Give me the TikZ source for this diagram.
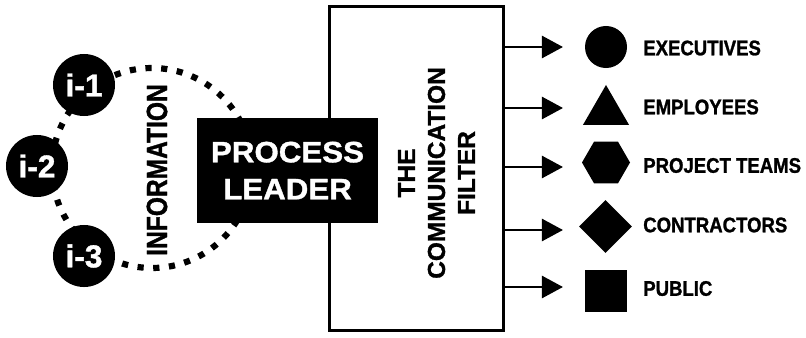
\documentclass[tikz,border=0pt]{standalone}
\usepackage{fontspec}
\setmainfont{Liberation Sans}[BoldFeatures={FakeBold=1.2}]
\newfontfamily\leadfont{Liberation Sans}[FakeStretch=1.06,BoldFeatures={FakeBold=1.2}]
\newfontfamily\infofont{Liberation Sans}[FakeStretch=0.84,BoldFeatures={FakeBold=1.2}]
\newfontfamily\tagfont{Liberation Sans}[FakeStretch=0.88,BoldFeatures={FakeBold=1.2}]
\usetikzlibrary{arrows.meta,shapes.geometric}

\begin{document}
\begin{tikzpicture}[x=0.025cm,y=0.025cm,>={Triangle[length=15pt,width=15.6pt]},
  inode/.style={circle,fill=black,text=white,minimum size=1.55cm,inner sep=0pt,font=\bfseries\fontsize{22.5}{24}\selectfont},
  member/.style={fill=black,inner sep=0pt},
  tag/.style={anchor=west,inner sep=0pt,font=\tagfont\bfseries\fontsize{15}{18}\selectfont},
  flow/.style={->,line width=2.1pt}]
\useasboundingbox (0,0) rectangle (806,337);
% dotted ring behind the information nodes
\draw[line width=4.4pt,dash pattern=on 4.4pt off 6.8pt] (152,169) circle (100);
\node[draw,line width=2.1pt,minimum width=4.35cm,minimum height=8.1cm,inner sep=0pt] (filter) at (416.5,168.5) {};
\node[rotate=90,align=center,inner sep=0pt,font=\bfseries\fontsize{17.4}{21.3}\selectfont] (filtertext) at (436.5,164) {THE\\COMMUNICATION\\FILTER};
\node[fill=black,text=white,minimum width=4.525cm,minimum height=2.625cm,align=center,font=\leadfont\bfseries\fontsize{21}{26.3}\selectfont] (leader) at (287.5,166.5) {PROCESS\\LEADER};
\node[inode] (i1) at (84,252) {i-1};
\node[inode] (i2) at (37,171) {i-2};
\node[inode] (i3) at (84,81) {i-3};
\node[rotate=90,inner sep=0pt,font=\infofont\bfseries\fontsize{20.8}{24}\selectfont] (info) at (157,167) {INFORMATION};
% audiences
\node[member,circle,minimum size=1.05cm] (exec) at (606,290) {};
\node[member,regular polygon,regular polygon sides=3,minimum size=1.33cm] (staff) at (606,225.4) {};
\node[member,regular polygon,regular polygon sides=6,minimum size=1.2cm] (teams) at (606,174.5) {};
\node[member,diamond,minimum width=1.325cm,minimum height=1.325cm] (contr) at (605.5,110.5) {};
\node[member,rectangle,minimum size=1.05cm] (public) at (606,46) {};
\node[tag] (execlbl) at (643,289) {EXECUTIVES};
\node[tag] (stafflbl) at (643,230) {EMPLOYEES};
\node[tag] (teamslbl) at (643,171.5) {PROJECT TEAMS};
\node[tag] (contrlbl) at (643,112) {CONTRACTORS};
\node[tag] (publiclbl) at (643,48.5) {PUBLIC};
\coordinate (t1) at (563,290);
\coordinate (t2) at (563,229);
\coordinate (t3) at (563,170);
\coordinate (t4) at (563,107);
\coordinate (t5) at (563,50);
\foreach \t in {t1,t2,t3,t4,t5}
  \draw[flow] (filter.east |- \t) -- (\t);
\end{tikzpicture}
\end{document}
